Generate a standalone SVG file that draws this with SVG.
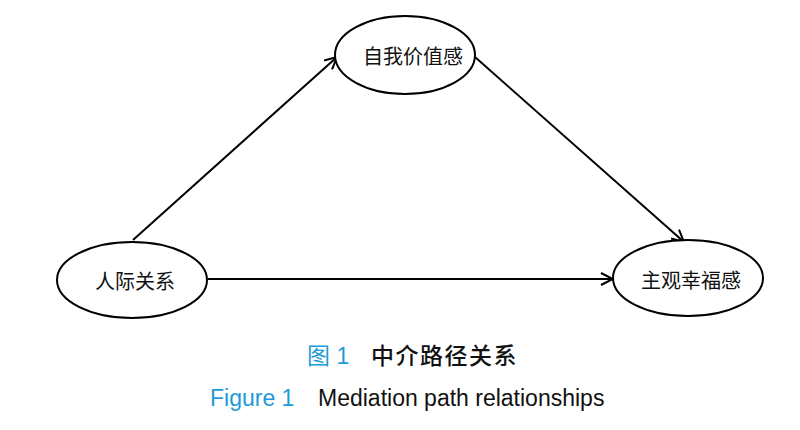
<svg xmlns="http://www.w3.org/2000/svg" width="800" height="430" viewBox="0 0 800 430">
<style>
.node{fill:#fff;stroke:#000;stroke-width:2}
.lbl{font-family:"Noto Sans CJK SC","Noto Sans",sans-serif;font-size:20px;fill:#111;text-anchor:middle;dominant-baseline:central}
.edge{stroke:#000;stroke-width:2;fill:none}
.cap{font-family:"Liberation Sans","Noto Sans CJK SC",sans-serif;font-size:23px}
.blue{fill:#1e9ad8}
</style>
<defs>
<marker id="arr" viewBox="0 0 14 14" refX="13" refY="7" markerWidth="14" markerHeight="14" markerUnits="userSpaceOnUse" orient="auto">
<path d="M1,1 L13,7 L1,13" fill="none" stroke="#000" stroke-width="2"/>
</marker>
</defs>
<rect width="800" height="430" fill="#fff"/>
<g id="connectors">
<line class="edge" x1="133" y1="240" x2="337" y2="57" marker-end="url(#arr)"/>
<line class="edge" x1="475" y1="57" x2="684" y2="242" marker-end="url(#arr)"/>
<line class="edge" x1="208" y1="279" x2="613" y2="279" marker-end="url(#arr)"/>
</g>
<g id="node-self">
<ellipse class="node" cx="405" cy="55" rx="70" ry="39"/>
<text class="lbl" x="413" y="55">自我价值感</text>
</g>
<g id="node-inter">
<ellipse class="node" cx="132" cy="280" rx="75" ry="38"/>
<text class="lbl" x="135" y="280">人际关系</text>
</g>
<g id="node-wellbeing">
<ellipse class="node" cx="688" cy="278" rx="75" ry="38"/>
<text class="lbl" x="691" y="279">主观幸福感</text>
</g>
<g id="caption">
<text class="cap blue" x="307" y="364">图 1</text>
<text class="cap" x="371" y="364" font-weight="500" letter-spacing="1.5" fill="#111">中介路径关系</text>
<text class="cap blue" x="210" y="406">Figure 1</text>
<text class="cap" x="318" y="406" fill="#111">Mediation path relationships</text>
</g>
</svg>
